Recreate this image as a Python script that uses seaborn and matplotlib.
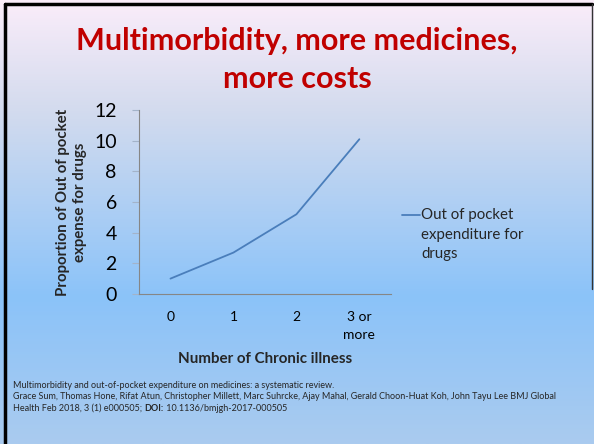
import numpy as np
import pandas as pd
import matplotlib
matplotlib.use("Agg")
import matplotlib.pyplot as plt
from matplotlib.colors import LinearSegmentedColormap
import seaborn as sns

# data
categories = ["0", "1", "2", "3 or\nmore"]
out_of_pocket = [1.0, 2.7, 5.2, 10.1]
series_name = "Out of pocket\nexpenditure for\ndrugs"
y_ticks = [0, 2, 4, 6, 8, 10, 12]

title = "Multimorbidity, more medicines,\nmore costs"
citation = [
    "Multimorbidity and out-of-pocket expenditure on medicines: a systematic review.",
    "Grace Sum, Thomas Hone, Rifat Atun, Christopher Millett, Marc Suhrcke, Ajay Mahal, Gerald Choon-Huat Koh, John Tayu Lee BMJ Global",
]
citation_last = "Health Feb 2018, 3 (1) e000505; "
doi_label = "DOI:"
doi_value = " 10.1136/bmjgh-2017-000505"

df = pd.DataFrame({"illness": categories, "value": out_of_pocket, "series": series_name})

sns.set_theme(style="white")
plt.rcParams["font.family"] = ["Lato", "DejaVu Sans"]

fig = plt.figure(figsize=(5.94, 4.44), dpi=100)

# slide background gradient
bg = fig.add_axes([0, 0, 1, 1], zorder=-10)
grad_cmap = LinearSegmentedColormap.from_list(
    "slide", [(0.0, "#fbedfa"), (0.25, "#d3dbee"), (0.67, "#8bc3f9"), (1.0, "#aacbef")])
bg.imshow(np.linspace(0, 1, 256).reshape(-1, 1), aspect="auto", cmap=grad_cmap,
          extent=[0, 1, 0, 1], origin="upper")
bg.set_xlim(0, 1)
bg.set_ylim(0, 1)
bg.axis("off")
# slide frame
bg.plot([0.008, 0.008], [0.0, 0.992], color="black", lw=2.5)
bg.plot([0.008, 0.997], [0.992, 0.992], color="black", lw=2.5)
bg.plot([0.996, 0.996], [0.35, 0.992], color="#333333", lw=1.0)

ax = fig.add_axes([0.234, 0.338, 0.424, 0.414])
ax.set_facecolor("none")
sns.lineplot(data=df, x="illness", y="value", hue="series", palette=["#4a7ebb"],
             linewidth=1.3, ax=ax, sort=False)

ax.set_xlim(-0.5, 3.5)
ax.set_ylim(0, 12)
ax.set_yticks(y_ticks)
ax.tick_params(axis="y", labelsize=14, length=5, width=0.8, color="#a3b3c9",
               left=True, pad=11, labelcolor="black")
ax.tick_params(axis="x", labelsize=10, length=0, pad=12, labelcolor="black")
for side in ["top", "right"]:
    ax.spines[side].set_visible(False)
for side in ["left", "bottom"]:
    ax.spines[side].set_color("#868686")
    ax.spines[side].set_linewidth(0.8)

ax.set_ylabel("Proportion of Out of pocket\nexpense for drugs", fontsize=10.8,
              fontweight="bold", labelpad=5, linespacing=1.3)
ax.set_xlabel("Number of Chronic illness", fontsize=10.9, fontweight="bold", labelpad=8)
for lab in ax.get_xticklabels():
    lab.set_linespacing(1.6)

leg = ax.legend(loc="upper left", bbox_to_anchor=(0.667, 0.545),
                bbox_transform=fig.transFigure, frameon=False, fontsize=10.8,
                handlelength=1.2, handletextpad=0.05, borderaxespad=0)
for t in leg.get_texts():
    t.set_linespacing(1.5)
# put the legend line next to the first text line, as on the slide
hl = leg.get_lines()[0]
hl.set_ydata(np.asarray(hl.get_ydata()) + 14.4)

fig.text(0.5, 0.865, title, ha="center", va="center", color="#c00000",
         fontsize=22, fontweight="bold", linespacing=1.45)

cite_size = 6.5
for i, line in enumerate(citation):
    fig.text(0.022, 1 - (385 + 11.5 * i) / 444, line, fontsize=cite_size, va="center")
y_last = 1 - 408 / 444
t_last = fig.text(0.022, y_last, citation_last, fontsize=cite_size, va="center")
fig.canvas.draw()
x1 = t_last.get_window_extent().x1 / fig.bbox.width
t_doi = fig.text(x1, y_last, doi_label, fontsize=cite_size, va="center", fontweight="bold")
fig.canvas.draw()
x2 = t_doi.get_window_extent().x1 / fig.bbox.width
fig.text(x2, y_last, doi_value, fontsize=cite_size, va="center")

fig.savefig("out.png", dpi=100)
